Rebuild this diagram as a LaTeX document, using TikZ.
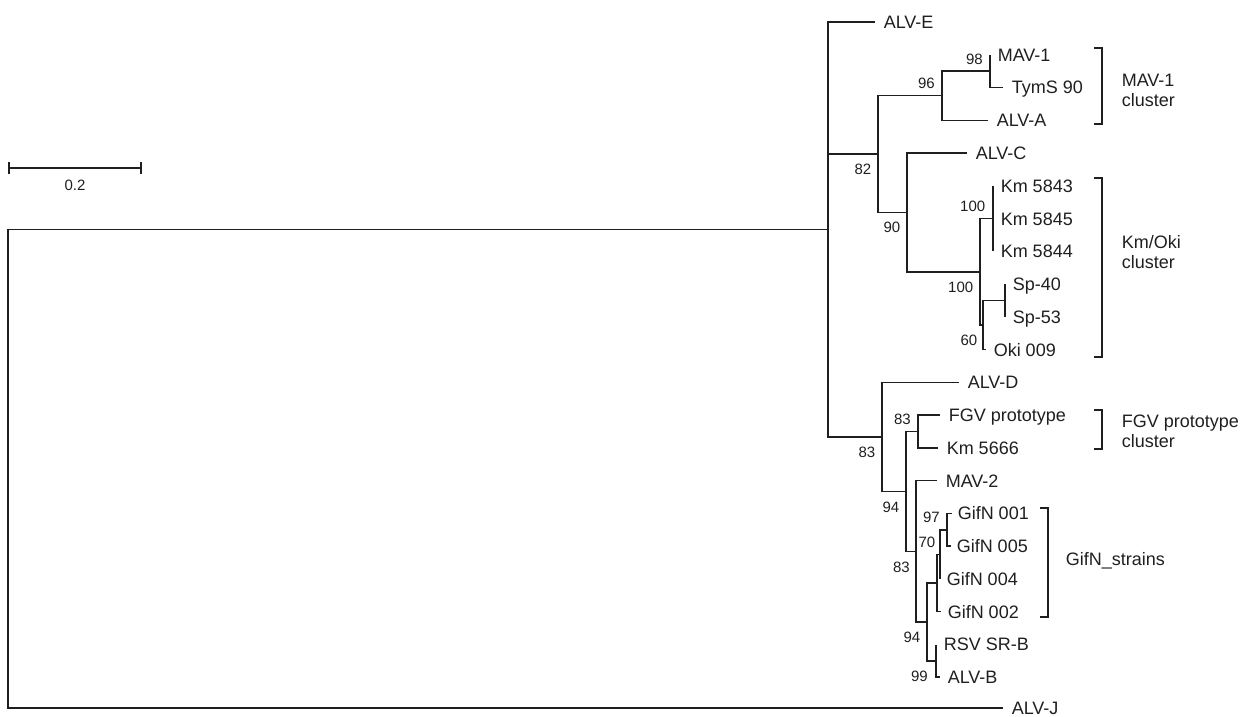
\documentclass[tikz,border=0pt]{standalone}
\usepackage{fontspec}
\setmainfont{Liberation Sans}
\usetikzlibrary{positioning}
\definecolor{ink}{gray}{0.12}

\begin{document}
\begin{tikzpicture}[x=1pt,y=-1pt,color=ink,line width=1.5pt,
leaf/.style={inner sep=0pt,text height=12.9pt,text depth=0pt,font=\fontsize{18}{20}\selectfont},
bsbl/.style={anchor=north east,inner sep=0pt,font=\fontsize{15}{17}\selectfont},
bsal/.style={anchor=south east,inner sep=0pt,font=\fontsize{15}{17}\selectfont},
clus/.style={anchor=west,align=left,inner sep=0pt,font=\fontsize{18}{20}\selectfont}]
\useasboundingbox (0,0) rectangle (1245,717);
% inner nodes
\coordinate (root) at (8,468.8);
\coordinate (nALV) at (828,229.5);
\coordinate (n82) at (878,154);
\coordinate (n96) at (942,95.7);
\coordinate (n98) at (990,71.2);
\coordinate (n90) at (907,212.4);
\coordinate (n100a) at (980,271.8);
\coordinate (n100b) at (993,218.6);
\coordinate (n60) at (983,325);
\coordinate (nSp) at (1005,300.5);
\coordinate (n83a) at (882,436.9);
\coordinate (n94a) at (906,491.4);
\coordinate (n83b) at (918,431.5);
\coordinate (n83c) at (916,551.3);
\coordinate (n94b) at (927,622);
\coordinate (nGif) at (937,583);
\coordinate (n70) at (940,554.4);
\coordinate (n97) at (947,529.8);
\coordinate (n99) at (936,660.9);
% tips
\coordinate (t-alvE) at (875,22);
\coordinate (t-mav1) at (990,54.8);
\coordinate (t-tyms) at (1003,87.5);
\coordinate (t-alvA) at (988,120.3);
\coordinate (t-alvC) at (967,153);
\coordinate (t-km43) at (993,185.8);
\coordinate (t-km45) at (993,218.6);
\coordinate (t-km44) at (993,251.3);
\coordinate (t-sp40) at (1005,284.1);
\coordinate (t-sp53) at (1005,316.9);
\coordinate (t-oki) at (986,349.6);
\coordinate (t-alvD) at (959,382.4);
\coordinate (t-fgv) at (940,415.1);
\coordinate (t-km66) at (938,447.9);
\coordinate (t-mav2) at (937,480.7);
\coordinate (t-g001) at (952,513.4);
\coordinate (t-g005) at (951,546.2);
\coordinate (t-g004) at (940,578.9);
\coordinate (t-g002) at (941,611.7);
\coordinate (t-rsv) at (936,644.5);
\coordinate (t-alvB) at (940,677.2);
\coordinate (t-alvJ) at (1003,708);
% labels
\node[leaf,right=8pt of t-alvE] (alvE) {ALV-E};
\node[leaf,right=7pt of t-mav1] (mav1) {MAV-1};
\node[leaf,right=8pt of t-tyms] (tyms) {TymS 90};
\node[leaf,right=8pt of t-alvA] (alvA) {ALV-A};
\node[leaf,right=8pt of t-alvC] (alvC) {ALV-C};
\node[leaf,right=7pt of t-km43] (km43) {Km 5843};
\node[leaf,right=7pt of t-km45] (km45) {Km 5845};
\node[leaf,right=7pt of t-km44] (km44) {Km 5844};
\node[leaf,right=7pt of t-sp40] (sp40) {Sp-40};
\node[leaf,right=7pt of t-sp53] (sp53) {Sp-53};
\node[leaf,right=7pt of t-oki] (oki) {Oki 009};
\node[leaf,right=8pt of t-alvD] (alvD) {ALV-D};
\node[leaf,right=8pt of t-fgv] (fgv) {FGV prototype};
\node[leaf,right=8pt of t-km66] (km66) {Km 5666};
\node[leaf,right=8pt of t-mav2] (mav2) {MAV-2};
\node[leaf,right=5pt of t-g001] (g001) {GifN 001};
\node[leaf,right=5pt of t-g005] (g005) {GifN 005};
\node[leaf,right=6pt of t-g004] (g004) {GifN 004};
\node[leaf,right=6pt of t-g002] (g002) {GifN 002};
\node[leaf,right=7pt of t-rsv] (rsv) {RSV SR-B};
\node[leaf,right=7pt of t-alvB] (alvB) {ALV-B};
\node[leaf,right=8pt of t-alvJ] (alvJ) {ALV-J};
% branches
\draw (root) |- (nALV); \draw (root) |- (t-alvJ);
\draw (nALV) |- (t-alvE); \draw (nALV) |- (n82); \draw (nALV) |- (n83a);
\draw (n82) |- (n96); \draw (n82) |- (n90);
\draw (n96) |- (n98); \draw (n96) |- (t-alvA);
\draw (n98) |- (t-mav1); \draw (n98) |- (t-tyms);
\draw (n90) |- (t-alvC); \draw (n90) |- (n100a);
\draw (n100a) |- (n100b); \draw (n100a) |- (n60);
\draw (n100b) |- (t-km43); \draw (n100b) |- (t-km44);
\draw (n60) |- (nSp); \draw (n60) |- (t-oki);
\draw (nSp) |- (t-sp40); \draw (nSp) |- (t-sp53);
\draw (n83a) |- (t-alvD); \draw (n83a) |- (n94a);
\draw (n94a) |- (n83b); \draw (n94a) |- (n83c);
\draw (n83b) |- (t-fgv); \draw (n83b) |- (t-km66);
\draw (n83c) |- (t-mav2); \draw (n83c) |- (n94b);
\draw (n94b) |- (nGif); \draw (n94b) |- (n99);
\draw (nGif) |- (n70); \draw (nGif) |- (t-g002);
\draw (n70) |- (n97); \draw (n70) |- (t-g004);
\draw (n97) |- (t-g001); \draw (n97) |- (t-g005);
\draw (n99) |- (t-rsv); \draw (n99) |- (t-alvB);
% bootstrap values
\node[bsbl,below left=9pt and 6pt of n82] (b82) {82};
\node[bsal,above left=6pt and 6.5pt of n96] (b96) {96};
\node[bsal,above left=6pt and 6.5pt of n98] (b98) {98};
\node[bsbl,below left=9pt and 6pt of n90] (b90) {90};
\node[bsal,above left=6pt and 7pt of n100b] (b100b) {100};
\node[bsbl,below left=9.5pt and 6pt of n100a] (b100a) {100};
\node[bsbl,below left=9.5pt and 5pt of n60] (b60) {60};
\node[bsbl,below left=9.5pt and 6pt of n83a] (b83a) {83};
\node[bsal,above left=6pt and 6.5pt of n83b] (b83b) {83};
\node[bsbl,below left=9.5pt and 6pt of n94a] (b94a) {94};
\node[bsbl,below left=9.5pt and 5.5pt of n83c] (b83c) {83};
\node[bsal,above left=6pt and 6.5pt of n97] (b97) {97};
\node[bsal,above left=6pt and 4pt of n70] (b70) {70};
\node[bsbl,below left=9.5pt and 6pt of n94b] (b94b) {94};
\node[bsbl,below left=9.5pt and 7.5pt of n99] (b99) {99};
% clusters
\draw (1094,48) -| (1102,124) -- (1094,124);
\draw (1094,178) -| (1102,357) -- (1094,357);
\draw (1094,410) -| (1102,449) -- (1094,449);
\draw (1040,508) -| (1048,617) -- (1040,617);
\node[clus] (cMAV) at (1121,90) {MAV-1\\cluster};
\node[clus] (cKm) at (1121,252) {Km/Oki\\cluster};
\node[clus] (cFGV) at (1121,431) {FGV prototype\\cluster};
\node[clus] (cGif) at (1065,561) {GifN\_strains};
% scale bar
\coordinate (sbL) at (9,168);
\coordinate (sbR) at (141,168);
\coordinate (sbM) at (75,168);
\draw (sbL) -- (sbR);
\draw ([yshift=6pt]sbL) -- ([yshift=-6pt]sbL);
\draw ([yshift=6pt]sbR) -- ([yshift=-6pt]sbR);
\node[font=\fontsize{15}{17}\selectfont,inner sep=0pt,below=11pt of sbM] (sbLab) {0.2};
\end{tikzpicture}
\end{document}
